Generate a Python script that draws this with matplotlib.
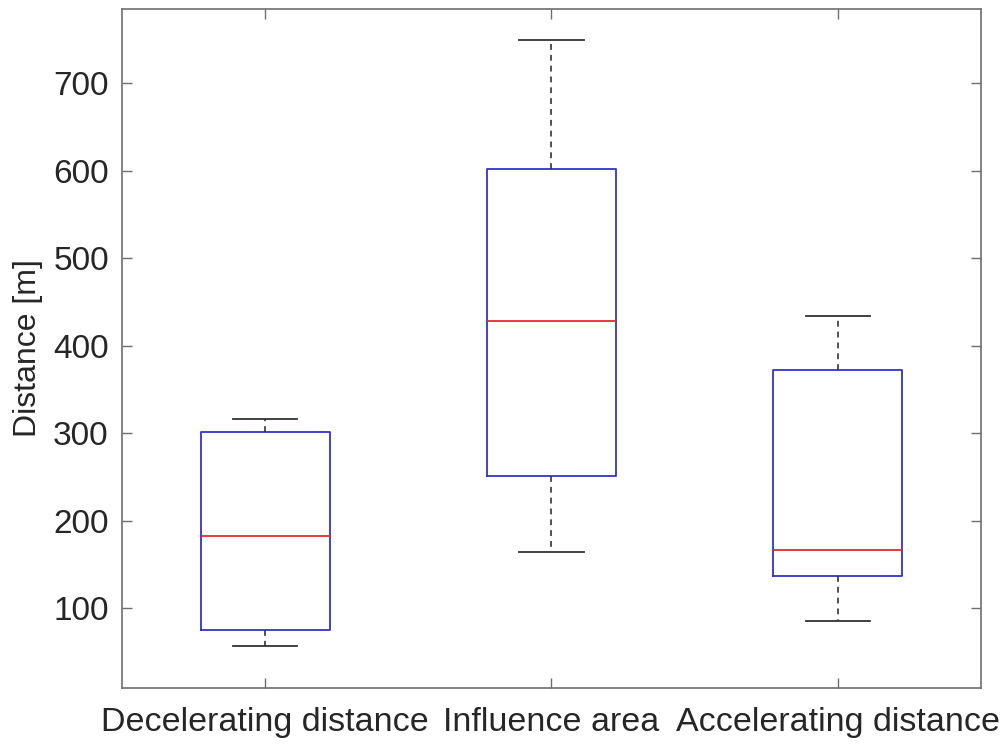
import matplotlib
matplotlib.use('Agg')
import matplotlib.pyplot as plt

# box statistics
labels = ['Decelerating distance', 'Influence area', 'Accelerating distance']
whislo = [56, 164, 85]
q1 = [75, 251, 137]
med = [182, 428, 166]
q3 = [301, 602, 372]
whishi = [316, 750, 434]

plt.rcParams['font.family'] = ['Liberation Sans', 'DejaVu Sans']
text_col = '#262626'
spine_col = '#6e6e6e'

stats = []
for i in range(len(labels)):
	stats.append({'label': labels[i], 'whislo': whislo[i], 'q1': q1[i], 'med': med[i],
				  'q3': q3[i], 'whishi': whishi[i], 'fliers': []})

fig = plt.figure(figsize=(10.07, 7.45), dpi=100)
ax = fig.add_axes([122 / 1007, 1 - 688 / 745, 859 / 1007, 679 / 745])

ax.bxp(stats, positions=[1, 2, 3], widths=0.45, showfliers=False,
	   boxprops={'color': '#3333cc', 'linewidth': 1.3},
	   medianprops={'color': '#e8282a', 'linewidth': 1.3},
	   whiskerprops={'color': '#333333', 'linewidth': 1.2, 'linestyle': (0, (3.5, 3))},
	   capprops={'color': '#333333', 'linewidth': 1.3},
	   capwidths=0.225)

ax.set_xlim(0.5, 3.5)
ax.set_ylim(8.5, 785)
ax.set_yticks([100, 200, 300, 400, 500, 600, 700])
ax.set_ylabel('Distance [m]', fontsize=23, color=text_col)
ax.yaxis.set_label_coords(-0.092, 0.5)
ax.tick_params(direction='in', length=7, width=1, top=True, right=True,
			   colors=spine_col, labelcolor=text_col)
ax.tick_params(axis='y', labelsize=24, pad=9.5)
ax.tick_params(axis='x', labelsize=24.5, pad=14)
for s in ax.spines.values():
	s.set_color(spine_col)
	s.set_linewidth(1.2)

fig.savefig('out.png', dpi=100)
